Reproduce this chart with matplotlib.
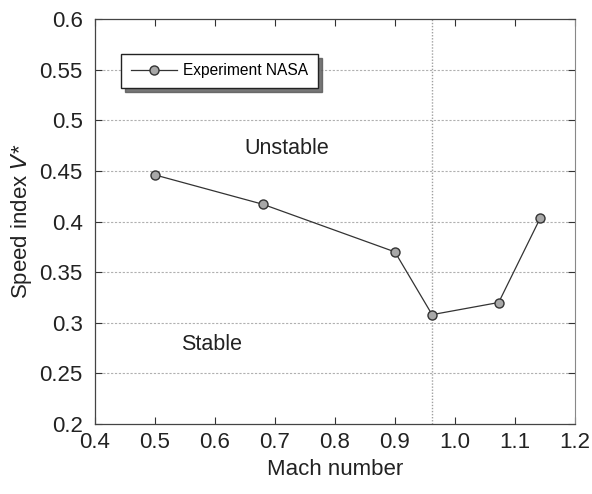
import matplotlib
matplotlib.use("Agg")
import matplotlib.pyplot as plt

mach = [0.50, 0.68, 0.90, 0.962, 1.073, 1.142]
speed_index = [0.446, 0.417, 0.370, 0.308, 0.320, 0.403]
transonic_dip = 0.962
xticks = [0.4, 0.5, 0.6, 0.7, 0.8, 0.9, 1.0, 1.1, 1.2]
xtick_labels = ["0.4", "0.5", "0.6", "0.7", "0.8", "0.9", "1.0", "1.1", "1.2"]
yticks = [0.2, 0.25, 0.3, 0.35, 0.4, 0.45, 0.5, 0.55, 0.6]
ytick_labels = ["0.2", "0.25", "0.3", "0.35", "0.4", "0.45", "0.5", "0.55", "0.6"]

plt.rcParams["font.family"] = ["Liberation Sans", "DejaVu Sans"]

fig = plt.figure(figsize=(5.92, 4.94), dpi=100)
ax = fig.add_axes([0.1605, 0.1417, 0.8105, 0.8198])

ax.plot(mach, speed_index, color="#333333", linewidth=0.9, marker="o",
        markersize=6.5, markerfacecolor="#a8a8a8", markeredgecolor="#333333",
        markeredgewidth=1.0, label="Experiment NASA")

for y in yticks[1:-1]:
    ax.axhline(y, color="#b0b0b0", linestyle=(0, (2, 1.5)), linewidth=0.8, zorder=0)
ax.axvline(transonic_dip, color="#a0a0a0", linestyle=(0, (1, 1.2)), linewidth=1.0, zorder=0)

ax.text(0.72, 0.472, "Unstable", fontsize=15.5, ha="center", va="center", color="#222222")
ax.text(0.594, 0.279, "Stable", fontsize=15.5, ha="center", va="center", color="#222222")

ax.set_xlim(0.4, 1.2)
ax.set_ylim(0.2, 0.6)
ax.set_xticks(xticks)
ax.set_xticklabels(xtick_labels)
ax.set_yticks(yticks)
ax.set_yticklabels(ytick_labels)
ax.tick_params(direction="in", top=True, right=True, length=5, width=0.8,
               labelsize=16, colors="#333333", labelcolor="#222222")
ax.tick_params(axis="y", pad=9)
ax.tick_params(axis="x", pad=6)

for side in ["left", "bottom", "top"]:
    ax.spines[side].set_color("#444444")
    ax.spines[side].set_linewidth(0.9)
ax.spines["right"].set_color("#888888")
ax.spines["right"].set_linestyle((0, (1, 1)))

ax.set_xlabel("Mach number", fontsize=16, color="#222222", labelpad=4)
ax.set_ylabel("Speed index $\\it{V}$*", fontsize=16, color="#222222", labelpad=4)

leg = ax.legend(loc="upper left", bbox_to_anchor=(0.054, 0.914), borderaxespad=0,
                fontsize=11.2, fancybox=False, shadow={"ox": 3, "oy": -3, "color": "#555555", "alpha": 0.8},
                handlelength=3.0, framealpha=1, borderpad=0.62, handletextpad=0.4)
leg.get_frame().set_edgecolor("#222222")
leg.get_frame().set_linewidth(1.0)

fig.savefig("out.png", dpi=100)
plt.close(fig)
